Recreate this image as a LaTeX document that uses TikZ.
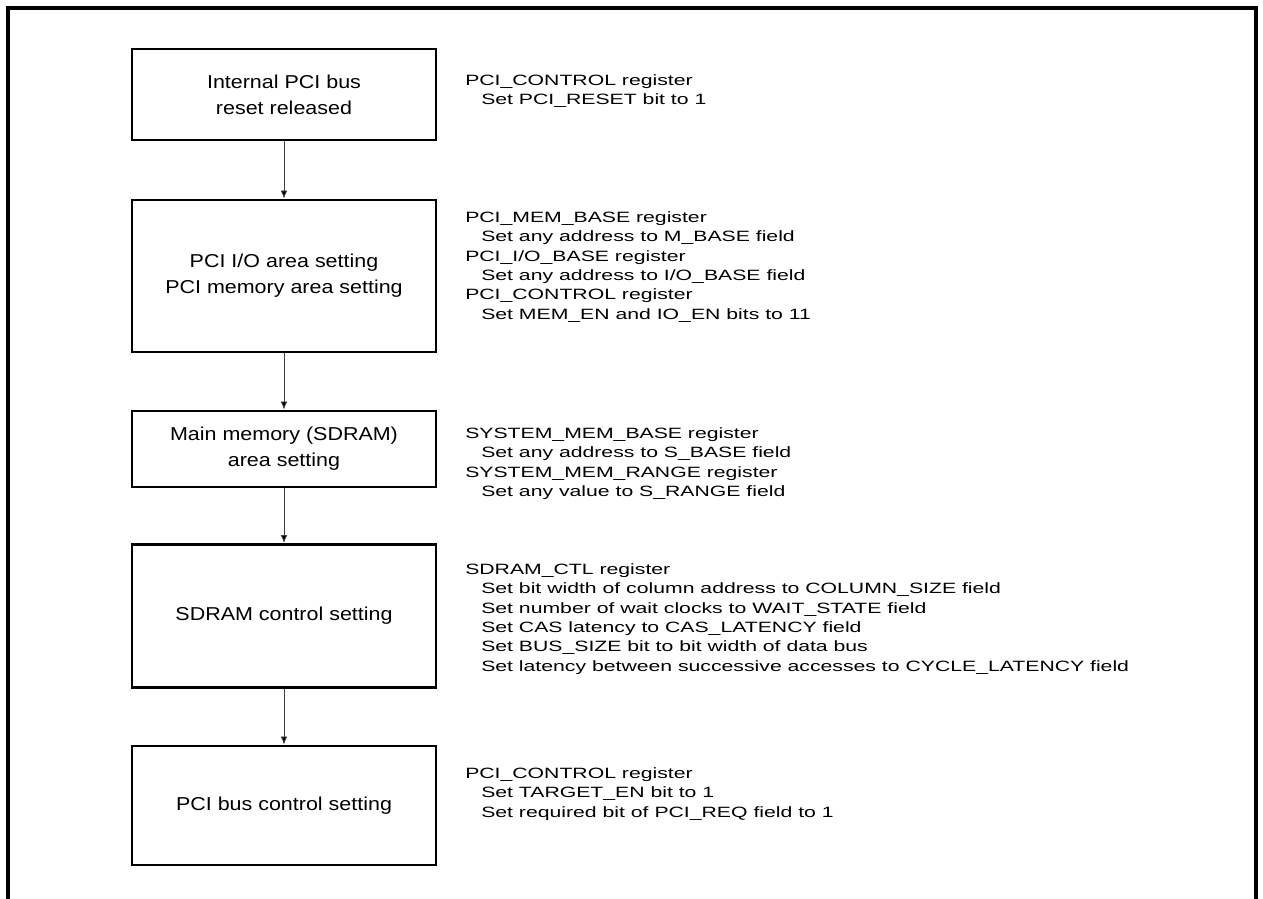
\documentclass[tikz,border=0pt]{standalone}
\usepackage{fontspec}
\setmainfont{Liberation Sans}
\newfontfamily\boxfont[FakeStretch=1.15]{Liberation Sans}
\newfontfamily\notefont[FakeStretch=1.42]{Liberation Sans}
\usetikzlibrary{arrows.meta}

\begin{document}
\begin{tikzpicture}[x=0.75pt,y=-0.75pt,-{Latex[length=6pt,width=5pt]},
  step box/.style={rectangle,draw,line width=2.2pt,minimum width=228pt,inner sep=0pt,align=center,font=\boxfont\fontsize{14}{19.5}\selectfont},
  reg note/.style={anchor=north west,inner sep=0pt,align=left,font=\notefont\fontsize{11.2}{14.6}\selectfont},
  flow/.style={draw=black!75,line width=0.6pt}]

  \useasboundingbox (0,0) rectangle (1263,899);
  \draw[-,line width=2.4pt] (8,899) -- (8,8) -- (1256,8) -- (1256,899);

  \node[step box,minimum height=68.25pt] (reset) at (284,94.5) {Internal PCI bus\\reset released};
  \node[step box,minimum height=114pt] (pciarea) at (284,276) {PCI I/O area setting\\PCI memory area setting};
  \node[step box,minimum height=57pt] (memarea) at (284,449) {Main memory (SDRAM)\\area setting};
  \node[step box,minimum height=107.25pt] (sdramctl) at (284,616) {SDRAM control setting};
  \node[step box,minimum height=89.25pt] (busctl) at (284,805.5) {PCI bus control setting};

  \node[reg note] (n1) at (465,74) {PCI\_CONTROL register\\
    \hspace*{12pt}Set PCI\_RESET bit to 1};
  \node[reg note] (n2) at (465,211) {PCI\_MEM\_BASE register\\
    \hspace*{12pt}Set any address to M\_BASE field\\
    PCI\_I/O\_BASE register\\
    \hspace*{12pt}Set any address to I/O\_BASE field\\
    PCI\_CONTROL register\\
    \hspace*{12pt}Set MEM\_EN and IO\_EN bits to 11};
  \node[reg note] (n3) at (465,427) {SYSTEM\_MEM\_BASE register\\
    \hspace*{12pt}Set any address to S\_BASE field\\
    SYSTEM\_MEM\_RANGE register\\
    \hspace*{12pt}Set any value to S\_RANGE field};
  \node[reg note] (n4) at (465,563) {SDRAM\_CTL register\\
    \hspace*{12pt}Set bit width of column address to COLUMN\_SIZE field\\
    \hspace*{12pt}Set number of wait clocks to WAIT\_STATE field\\
    \hspace*{12pt}Set CAS latency to CAS\_LATENCY field\\
    \hspace*{12pt}Set BUS\_SIZE bit to bit width of data bus\\
    \hspace*{12pt}Set latency between successive accesses to CYCLE\_LATENCY field};
  \node[reg note] (n5) at (465,767) {PCI\_CONTROL register\\
    \hspace*{12pt}Set TARGET\_EN bit to 1\\
    \hspace*{12pt}Set required bit of PCI\_REQ field to 1};

  \path[flow]
       (reset) edge (pciarea)
       (pciarea) edge (memarea)
       (memarea) edge (sdramctl)
       (sdramctl) edge (busctl);
\end{tikzpicture}
\end{document}
